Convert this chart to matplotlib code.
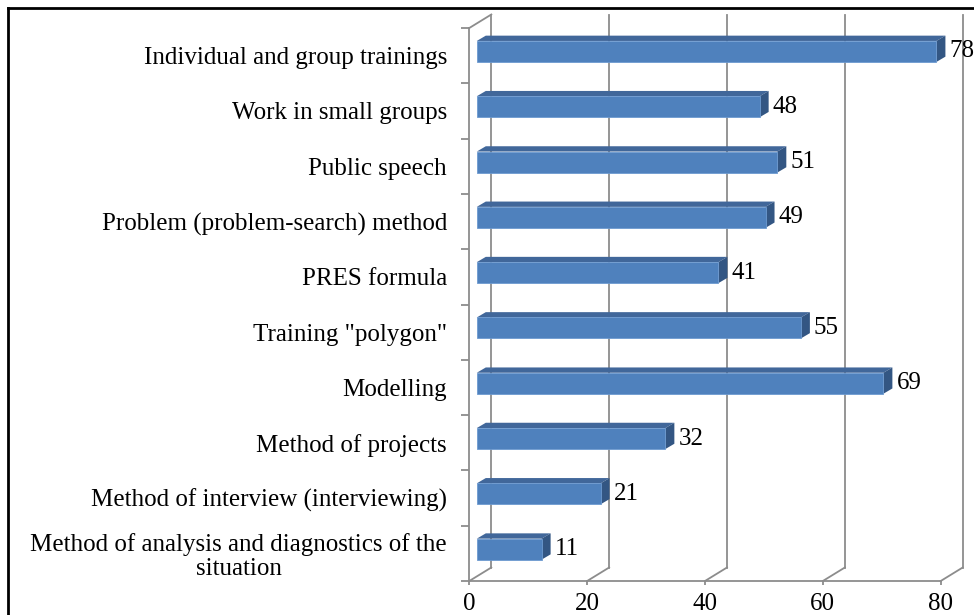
import matplotlib
matplotlib.use("Agg")
import matplotlib.pyplot as plt
from matplotlib.patches import Polygon, Rectangle
from matplotlib.lines import Line2D

categories = ["Method of analysis and diagnostics of the\nsituation",
              "Method of interview (interviewing)",
              "Method of projects",
              "Modelling",
              'Training "polygon"',
              "PRES formula",
              "Problem (problem-search) method",
              "Public speech",
              "Work in small groups",
              "Individual and group trainings"]
values = [11, 21, 32, 69, 55, 41, 49, 51, 48, 78]
xticks = [0, 20, 40, 60, 80]

W, H = 974, 615
fig = plt.figure(figsize=(W / 100, H / 100), dpi=100)
plt.rcParams['font.family'] = ['Liberation Serif', 'DejaVu Serif']
fs = 18

# front plane of the plot: x 0 -> px 469, 80 -> px 940; floor at px 581, top at px 28
x0, x1 = 469.3, 940.7
yb, yt = 581, 28
ax = fig.add_axes([x0 / W, (H - yb) / H, (x1 - x0) / W, (yb - yt) / H])
n = len(categories)
ax.set_xlim(0, 80)
ax.set_ylim(-0.5, n - 0.5)

sx = 80 / (x1 - x0)      # data units per pixel
sy = n / (yb - yt)

DX, DY = 22 * sx, 13.5 * sy     # full depth of the 3d box
fx, fy = 7.5 * sx, 4.2 * sy     # bar front face offset
bx, by = 9 * sx, 5.3 * sy       # bar depth
h = 21 * sy                     # bar front face height

grid = "#8c8c8c"
lw = 1.3
top = n - 0.5
bot = -0.5

# back wall gridlines + floor diagonals
for t in xticks:
    ax.plot([t + DX, t + DX], [bot + DY, top + DY], color=grid, lw=lw, clip_on=False, zorder=1)
    ax.plot([t, t + DX], [bot, bot + DY], color=grid, lw=lw, clip_on=False, zorder=1)
# left wall
ax.plot([0, 0], [bot, top], color=grid, lw=lw, clip_on=False, zorder=1)
ax.plot([0, DX], [top, top + DY], color=grid, lw=lw, clip_on=False, zorder=1)
# floor front line
ax.plot([0, 80], [bot, bot], color=grid, lw=lw, clip_on=False, zorder=1)

front = "#4f81bd"
topc = "#41679a"
side = "#335683"
for i, v in enumerate(values):
    xa = fx
    xb = v + fx
    ya = i + fy - h / 2
    yc = i + fy + h / 2
    ax.add_patch(Polygon([(xa, yc), (xa + bx, yc + by), (xb + bx, yc + by), (xb, yc)],
                         closed=True, fc=topc, ec="none", zorder=3, clip_on=False))
    ax.add_patch(Polygon([(xb, ya), (xb + bx, ya + by), (xb + bx, yc + by), (xb, yc)],
                         closed=True, fc=side, ec="none", zorder=3, clip_on=False))
    ax.add_patch(Rectangle((xa, ya), v, h, fc=front, ec="#6d9ad0", lw=0.6, zorder=4, clip_on=False))
    ax.text(xb + bx + 4 * sx, i + fy, str(v), ha="left", va="center",
            fontsize=fs, zorder=5, clip_on=False)

for s in ax.spines.values():
    s.set_visible(False)
ax.set_xticks(xticks)
ax.set_xticklabels([str(t) for t in xticks], fontsize=fs)
ax.tick_params(axis="x", length=3, color=grid, width=lw, pad=6)
ax.set_yticks(range(n))
ax.set_yticklabels(categories, fontsize=fs, multialignment="center", linespacing=1.12)
ax.tick_params(axis="y", which="major", length=0, pad=16)
ax.set_yticks([k - 0.5 for k in range(n + 1)], minor=True)
ax.tick_params(axis="y", which="minor", length=6, color=grid, width=lw)
ax.set_facecolor("none")

# outer chart frame
fig.add_artist(Line2D([7.5 / W, 7.5 / W], [-0.1, 1 - 7.5 / H], transform=fig.transFigure, color="black", lw=2))
fig.add_artist(Line2D([7.5 / W, 1.1], [1 - 7.5 / H, 1 - 7.5 / H], transform=fig.transFigure, color="black", lw=2))

fig.savefig("out.png", dpi=100)
